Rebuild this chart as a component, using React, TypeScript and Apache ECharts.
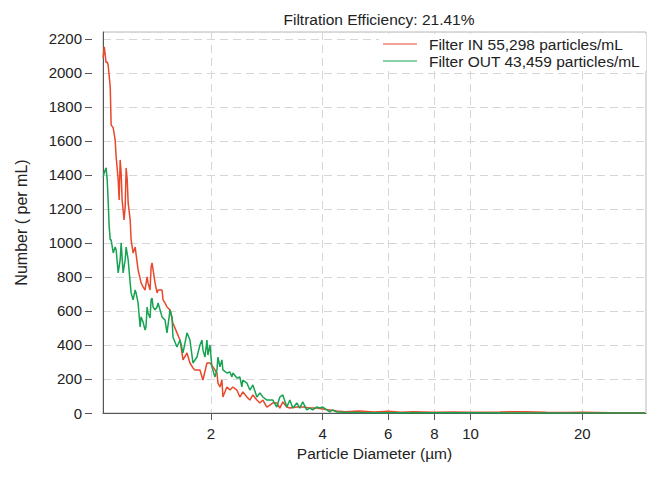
import React, { useEffect, useRef } from "react";
import * as echarts from "echarts";

const titleText = "Filtration Efficiency: 21.41%";
const seriesNames = ["Filter IN 55,298 particles/mL", "Filter OUT 43,459 particles/mL"];
const xTickValues = [2, 4, 6, 8, 10, 20];

const inX = [1.025, 1.032, 1.038, 1.044, 1.051, 1.057, 1.071, 1.077, 1.091, 1.104, 1.111, 1.125, 1.132, 1.139, 1.146, 1.153, 1.167, 1.175, 1.182, 1.19, 1.197, 1.212, 1.219, 1.234, 1.25, 1.273, 1.297, 1.313, 1.329, 1.346, 1.354, 1.371, 1.38, 1.388, 1.397, 1.414, 1.432, 1.441, 1.477, 1.486, 1.504, 1.523, 1.552, 1.58, 1.62, 1.651, 1.682, 1.724, 1.756, 1.789, 1.811, 1.868, 1.903, 1.951, 1.988, 2.025, 2.076, 2.089, 2.115, 2.141, 2.154, 2.208, 2.25, 2.292, 2.349, 2.393, 2.438, 2.499, 2.546, 2.594, 2.659, 2.709, 2.76, 2.829, 2.882, 2.936, 3.009, 3.066, 3.123, 3.202, 3.262, 3.407, 3.534, 3.691, 3.854, 4.001, 4.178, 4.362, 4.6, 5.0, 5.5, 6.0, 6.5, 7.0, 8.0, 9.0, 10.0, 12.0, 14.0, 16.0, 18.0, 20.0, 24.0, 29.5];
const inY = [2088, 2153, 2106, 2059, 2065, 2047, 1918, 1694, 1676, 1606, 1506, 1371, 1253, 1488, 1412, 1253, 1135, 1212, 1441, 1371, 1235, 1135, 1018, 941, 976, 841, 765, 741, 723, 800, 765, 723, 859, 882, 841, 765, 706, 723, 723, 665, 647, 623, 606, 529, 471, 429, 312, 353, 294, 265, 253, 253, 194, 294, 294, 271, 235, 176, 153, 194, 94, 153, 135, 153, 135, 94, 124, 94, 76, 106, 76, 59, 76, 35, 47, 59, 59, 29, 65, 35, 29, 35, 35, 29, 29, 24, 18, 12, 8, 12, 6, 10, 5, 8, 4, 6, 5, 6, 8, 4, 3, 4, 2, 2];

const outX = [1.025, 1.032, 1.038, 1.044, 1.051, 1.057, 1.064, 1.071, 1.077, 1.091, 1.104, 1.111, 1.125, 1.139, 1.146, 1.16, 1.175, 1.182, 1.197, 1.212, 1.219, 1.234, 1.25, 1.257, 1.273, 1.289, 1.297, 1.313, 1.329, 1.337, 1.346, 1.354, 1.371, 1.38, 1.388, 1.397, 1.414, 1.432, 1.441, 1.477, 1.504, 1.523, 1.552, 1.571, 1.58, 1.62, 1.651, 1.682, 1.724, 1.756, 1.789, 1.834, 1.868, 1.892, 1.903, 1.927, 1.951, 1.963, 1.988, 2.012, 2.05, 2.076, 2.089, 2.115, 2.141, 2.154, 2.208, 2.25, 2.278, 2.292, 2.349, 2.393, 2.423, 2.438, 2.499, 2.546, 2.594, 2.659, 2.709, 2.76, 2.829, 2.882, 2.936, 3.009, 3.066, 3.123, 3.202, 3.262, 3.323, 3.407, 3.469, 3.534, 3.623, 3.691, 3.759, 3.854, 3.927, 4.001, 4.1, 4.178, 4.256, 4.362, 4.6, 5.0, 5.5, 6.0, 7.0, 8.0, 10.0, 14.0, 20.0, 29.5];
const outY = [1388, 1412, 1429, 1441, 1371, 1253, 1094, 1018, 1018, 941, 976, 959, 824, 900, 1000, 824, 900, 976, 900, 765, 706, 665, 723, 706, 647, 506, 565, 535, 488, 506, 623, 588, 559, 665, 676, 623, 606, 623, 647, 565, 547, 471, 606, 565, 447, 388, 429, 353, 471, 429, 294, 329, 400, 429, 371, 329, 429, 341, 400, 271, 212, 253, 329, 271, 312, 253, 235, 241, 212, 235, 206, 212, 153, 194, 176, 135, 165, 94, 118, 94, 76, 76, 76, 35, 94, 106, 35, 76, 29, 59, 29, 65, 18, 29, 18, 35, 29, 35, 18, 6, 18, 6, 4, 3, 2, 2, 1, 1, 1, 0, 0, 0];

const yMin = 0;
const yMax = 2240;
const yInterval = 200;

export default function App() {
  const ref = useRef<HTMLDivElement>(null);
  useEffect(() => {
    if (!ref.current) return;
    const chart = echarts.init(ref.current, undefined, { renderer: "svg" });
    const font = "Liberation Sans, Arial, sans-serif";
    const inData = inX.map((x, i) => [x, inY[i]]);
    const outData = outX.map((x, i) => [x, outY[i]]);
    chart.setOption({
      animation: false,
      backgroundColor: "#ffffff",
      textStyle: { fontFamily: font },
      title: {
        text: titleText,
        left: 374,
        textAlign: "center",
        top: 6,
        textStyle: { fontSize: 15.5, fontWeight: "normal", color: "#222", fontFamily: font },
      },
      legend: {
        orient: "vertical",
        right: 18,
        top: 34,
        itemWidth: 34,
        itemHeight: 10,
        itemGap: 1,
        padding: [2, 6, 2, 4],
        backgroundColor: "#ffffff",
        icon: "path://M0,4.5 L34,4.5 L34,5.5 L0,5.5 Z",
        textStyle: { fontSize: 15.5, color: "#222", fontFamily: font, padding: [0, 0, 0, 7] },
        data: seriesNames,
      },
      grid: {
        left: 103,
        right: 18,
        top: 32,
        bottom: 71,
        show: true,
        borderColor: "#b8b8b8",
        borderWidth: 1,
        containLabel: false,
      },
      xAxis: {
        type: "log",
        logBase: 10,
        min: 1.024,
        max: 29.7,
        name: "Particle Diameter (µm)",
        nameLocation: "middle",
        nameGap: 32,
        nameTextStyle: { fontSize: 15.5, color: "#222", fontFamily: font },
        axisLine: { show: true, lineStyle: { color: "#555", width: 1 } },
        axisTick: { show: true, length: 7, customValues: xTickValues, lineStyle: { color: "#555" } },
        axisLabel: {
          customValues: xTickValues,
          fontSize: 15,
          color: "#222",
          margin: 13,
          fontFamily: font,
          formatter: (v: number) => String(Math.round(v)),
        },
        splitLine: { show: true, lineStyle: { color: "#d6d6d6", type: [8, 5], width: 1 } },
        minorTick: { show: false },
      },
      yAxis: [
        {
          type: "value",
          min: yMin,
          max: yMax,
          interval: yInterval,
          offset: 11,
          name: "Number ( per mL)",
          nameLocation: "middle",
          nameGap: 63,
          nameTextStyle: { fontSize: 16, color: "#222", fontFamily: font },
          axisLine: { show: false },
          axisTick: { show: true, length: 7, lineStyle: { color: "#555" } },
          axisLabel: {
            fontSize: 15,
            color: "#222",
            margin: 10,
            showMaxLabel: false,
            fontFamily: font,
            formatter: (v: number) => (v % 200 === 0 ? String(v) : ""),
          },
          splitLine: { show: true, lineStyle: { color: "#d6d6d6", type: [8, 5], width: 1 } },
        },
        {
          type: "value",
          min: yMin,
          max: yMax,
          position: "left",
          offset: 0,
          axisLine: { show: true, onZero: false, lineStyle: { color: "#555", width: 1 } },
          axisTick: { show: false },
          axisLabel: { show: false },
          splitLine: { show: false },
        },
      ],
      series: [
        {
          name: seriesNames[0],
          type: "line",
          data: inData,
          showSymbol: false,
          symbol: "none",
          lineStyle: { color: "#e8482c", width: 1.5 },
          itemStyle: { color: "#e8482c" },
          yAxisIndex: 0,
        },
        {
          name: seriesNames[1],
          type: "line",
          data: outData,
          showSymbol: false,
          symbol: "none",
          lineStyle: { color: "#17a352", width: 1.5 },
          itemStyle: { color: "#17a352" },
          yAxisIndex: 0,
        },
      ],
    });
    return () => chart.dispose();
  }, []);
  return (
    <div
      ref={ref}
      style={{ position: "fixed", left: 0, top: 0, width: 664, height: 484 }}
    />
  );
}
